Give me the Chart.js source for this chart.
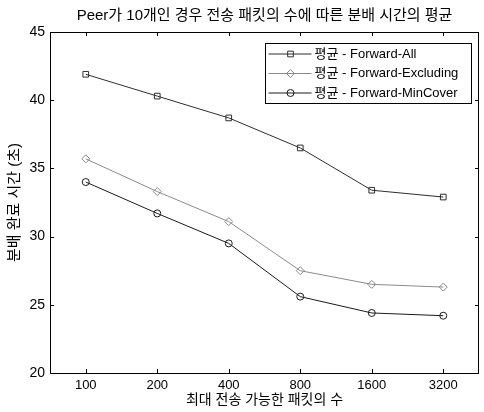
<!DOCTYPE html>
<html>
<head>
<meta charset="utf-8">
<script src="https://cdn.jsdelivr.net/npm/chart.js@4.4.0/dist/chart.umd.min.js"></script>
<style>
  html, body { margin: 0; padding: 0; background: #fff; }
  #wrap { width: 484px; height: 412px; }
</style>
</head>
<body>
<div id="wrap"><canvas id="chart" width="484" height="412"></canvas></div>
<script>
// Data
const packetCounts = ['100', '200', '400', '800', '1600', '3200'];
const forwardAll = [41.9, 40.3, 38.7, 36.5, 33.4, 32.9];
const forwardExcluding = [35.7, 33.3, 31.1, 27.5, 26.5, 26.3];
const forwardMinCover = [34.0, 31.7, 29.5, 25.6, 24.4, 24.2];
const yTicks = [20, 25, 30, 35, 40, 45];
const chartTitle = 'Peer가 10개인 경우 전송 패킷의 수에 따른 분배 시간의 평균';

const FONT = "'Liberation Sans', Arial, 'Noto Sans CJK KR', sans-serif";

// MATLAB-like box with inward ticks, title over the plot area, legend inside
const framePlugin = {
  id: 'frame',
  afterDraw(chart) {
    const ctx = chart.ctx;
    const a = chart.chartArea;
    const xs = chart.scales.x, ys = chart.scales.y;
    ctx.save();
    ctx.strokeStyle = '#000';
    ctx.lineWidth = 1;
    ctx.strokeRect(Math.round(a.left) + 0.5, Math.round(a.top) + 0.5,
                   Math.round(a.right - a.left) - 1, Math.round(a.bottom - a.top));
    const len = 4;
    ctx.beginPath();
    xs.ticks.forEach((t, i) => {
      const x = Math.round(xs.getPixelForTick(i)) + 0.5;
      ctx.moveTo(x, a.bottom); ctx.lineTo(x, a.bottom - len);
      ctx.moveTo(x, a.top); ctx.lineTo(x, a.top + len);
    });
    ys.ticks.forEach((t, i) => {
      const y = Math.round(ys.getPixelForTick(i)) + 0.5;
      ctx.moveTo(a.left, y); ctx.lineTo(a.left + len, y);
      ctx.moveTo(a.right, y); ctx.lineTo(a.right - len, y);
    });
    ctx.stroke();

    // title
    ctx.fillStyle = '#000';
    ctx.font = '15px ' + FONT;
    ctx.textAlign = 'center';
    ctx.textBaseline = 'middle';
    ctx.fillText(chartTitle, (a.left + a.right) / 2, 16);

    // legend box
    const bx = 265.5, by = 43.5, bw = 206, bh = 60;
    ctx.fillStyle = '#fff';
    ctx.fillRect(bx, by, bw, bh);
    ctx.strokeRect(bx, by, bw, bh);
    ctx.font = '13px ' + FONT;
    ctx.textAlign = 'left';
    chart.data.datasets.forEach((ds, i) => {
      const y = by + 10.5 + i * 19.5;
      ctx.strokeStyle = ds.borderColor;
      ctx.fillStyle = 'rgba(0,0,0,0)';
      ctx.lineWidth = 1;
      ctx.beginPath();
      ctx.moveTo(bx + 3, y); ctx.lineTo(bx + 46, y);
      ctx.stroke();
      Chart.helpers.drawPoint(ctx, {
        pointStyle: ds.pointStyle, radius: ds.pointRadius, rotation: 0,
        borderWidth: 1
      }, bx + 25, y);
      ctx.fillStyle = '#000';
      ctx.fillText(ds.label, bx + 49, y);
    });
    ctx.restore();
  }
};

new Chart(document.getElementById('chart'), {
  type: 'line',
  data: {
    labels: packetCounts,
    datasets: [
      { label: '평균 - Forward-All', data: forwardAll, borderColor: '#2e2e2e',
        pointStyle: 'rect', pointRadius: 4 },
      { label: '평균 - Forward-Excluding', data: forwardExcluding, borderColor: '#8a8a8a',
        pointStyle: 'rectRot', pointRadius: 4 },
      { label: '평균 - Forward-MinCover', data: forwardMinCover, borderColor: '#1a1a1a',
        pointStyle: 'circle', pointRadius: 3.5 }
    ].map(d => Object.assign(d, {
      borderWidth: 1, pointBorderWidth: 1, pointBorderColor: d.borderColor,
      pointBackgroundColor: 'rgba(0,0,0,0)', tension: 0, fill: false
    }))
  },
  options: {
    responsive: false,
    animation: false,
    layout: { padding: { left: 0, right: 0, top: 32, bottom: 0 } },
    plugins: {
      legend: { display: false },
      tooltip: { enabled: false },
      title: { display: false }
    },
    scales: {
      x: {
        offset: true,
        grid: { display: false, drawTicks: false },
        border: { display: false },
        ticks: { color: '#000', padding: 5, font: { family: FONT, size: 13 } },
        title: { display: true, text: '최대 전송 가능한 패킷의 수', color: '#000',
                 font: { family: FONT, size: 14 }, padding: { top: 0, bottom: 3 } },
        afterFit: s => { s.height = 39; }
      },
      y: {
        min: 20, max: 45,
        afterBuildTicks: s => { s.ticks = yTicks.map(v => ({ value: v })); },
        grid: { display: false, drawTicks: false },
        border: { display: false },
        ticks: { color: '#000', padding: 5, font: { family: FONT, size: 14 } },
        title: { display: true, text: '분배 완료 시간 (초)', color: '#000',
                 font: { family: FONT, size: 15 }, padding: { top: 6, bottom: 0 } },
        afterFit: s => { s.width = 50; }
      }
    }
  },
  plugins: [framePlugin]
});
</script>
</body>
</html>
